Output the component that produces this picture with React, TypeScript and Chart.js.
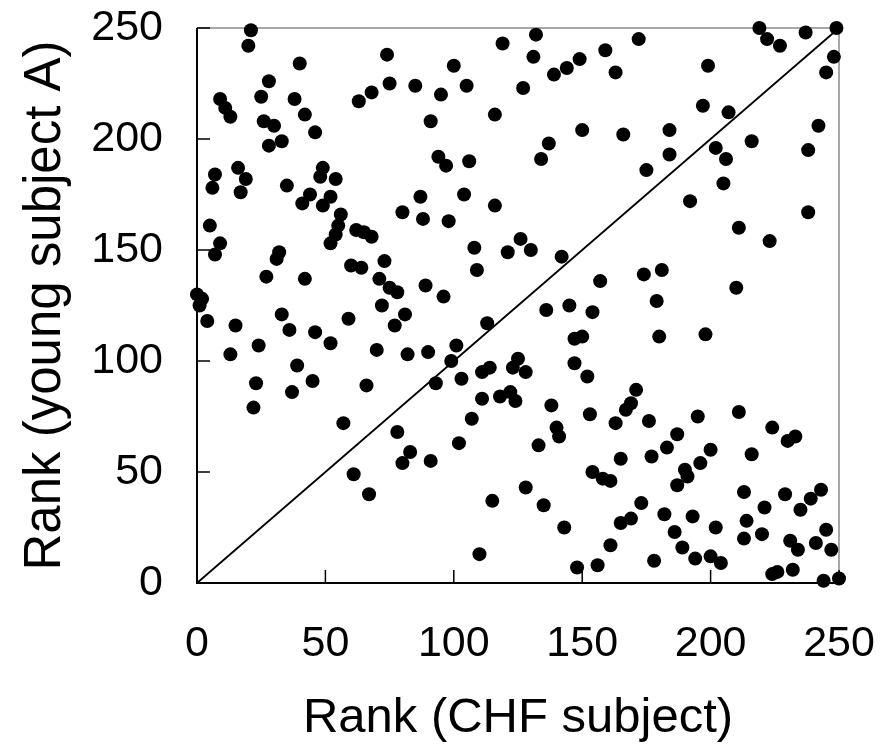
import React, { useEffect, useRef } from "react";
import { Chart, registerables } from "chart.js";

Chart.register(...registerables);

// Rank of each gene in the CHF subject (x) and in young subject A (y)
const chfRank: number[] = [
  21, 20, 40, 74, 28, 75, 68, 63, 9, 11, 13, 25, 38, 42, 26, 30, 46, 33, 28, 7, 6, 16, 19, 17, 35, 49, 48, 54, 41, 44, 49, 52,
  80, 5, 9, 7, 56, 55, 54, 52, 62, 65, 68, 32, 31, 27, 42, 60, 64, 73, 71, 75, 78, 0, 2, 1, 4, 15, 33, 36, 46, 52, 59, 72, 81, 77, 70, 82, 24, 13, 39, 23, 45, 66, 37,
  22, 57, 78, 83, 80, 61, 67,
  119, 132, 131, 159, 100, 85, 95, 105, 127, 139, 144, 149, 163, 91, 116, 150, 166, 137, 134, 94, 97, 106, 87, 104, 116,
  172, 219, 222, 227, 237, 249, 248, 245, 199, 197, 207, 242, 184, 184, 216, 202, 206, 238, 175, 205, 192, 238,
  88, 98, 108, 109, 126, 130, 121, 142, 157, 89, 96, 136, 145, 154, 113, 147, 150, 101, 99, 90, 93, 103, 111, 114, 125, 123, 128, 147, 152,
  211, 223, 174, 181, 210, 179, 180, 198, 171,
  111, 118, 122, 124, 107, 138, 140, 141, 133, 153, 163, 165, 91, 102, 154, 158, 161, 128, 115, 135, 143, 161, 110, 148, 156,
  169, 167, 176, 195, 211, 224, 230, 233, 187, 183, 177, 200, 196, 190, 191, 187, 216, 213, 221, 229, 243, 239, 235, 173, 169, 165, 182, 193, 186, 202, 189, 194, 178, 200, 204, 214, 213, 220, 231, 234, 241, 245, 247, 224, 226, 232, 244, 250,
];

const youngRank: number[] = [
  249, 242, 234, 238, 226, 225, 221, 217, 218, 214, 210, 219, 218, 211, 208, 206, 203, 199, 197, 184, 178, 187, 182, 176, 179, 187, 183, 182, 171, 175, 170, 174,
  167, 161, 153, 148, 166, 161, 157, 153, 159, 158, 156, 149, 146, 138, 137, 143, 142, 145, 137, 133, 131, 130, 128, 125, 118, 116, 121, 114, 113, 108, 119, 125, 121, 116, 105, 103, 107, 103, 98, 90, 91, 89, 86,
  79, 72, 68, 59, 54, 49, 40,
  243, 247, 237, 240, 233, 224, 220, 224, 223, 229, 232, 236, 230, 208, 211, 204, 202, 198, 191, 192, 188, 190, 174, 175, 170,
  245, 250, 245, 242, 248, 250, 237, 230, 233, 215, 212, 206, 204, 193, 199, 196, 191, 195, 186, 180, 172, 167,
  164, 163, 151, 141, 155, 150, 149, 147, 136, 134, 129, 123, 125, 122, 117, 110, 111, 107, 100, 104, 90, 92, 95, 97, 101, 97, 95, 99, 93,
  160, 154, 139, 141, 133, 127, 111, 112, 87,
  83, 84, 86, 82, 74, 80, 70, 66, 62, 76, 72, 56, 55, 63, 50, 47, 46, 43, 37, 35, 25, 17, 13, 7, 8,
  81, 78, 73, 75, 77, 70, 64, 66, 67, 61, 57, 60, 54, 51, 48, 44, 58, 41, 34, 40, 42, 38, 33, 36, 29, 27, 31, 30, 23, 25, 16, 11, 10, 12, 9, 28, 20, 22, 19, 15, 18, 24, 15, 4, 5, 6, 1, 2,
];

const identityLine: number[] = [0, 250];
const tickValues: number[] = [0, 50, 100, 150, 200, 250];
const xTitle = "Rank (CHF subject)";
const yTitle = "Rank (young subject A)";

const FONT = "'Liberation Sans', Arial, sans-serif";

const framePlugin = {
  id: "frameTicks",
  beforeDatasetsDraw(chart: any) {
    const { ctx, chartArea: a, scales } = chart;
    ctx.save();
    ctx.strokeStyle = "#8a8a8a";
    ctx.lineWidth = 1.5;
    ctx.beginPath();
    ctx.moveTo(a.left, a.top);
    ctx.lineTo(a.right, a.top);
    ctx.lineTo(a.right, a.bottom);
    ctx.stroke();
    ctx.strokeStyle = "#000";
    ctx.lineWidth = 2;
    ctx.beginPath();
    ctx.moveTo(a.left, a.top);
    ctx.lineTo(a.left, a.bottom);
    ctx.lineTo(a.right, a.bottom);
    ctx.stroke();
    ctx.lineWidth = 1.5;
    ctx.beginPath();
    tickValues.forEach((v) => {
      if (v === 0) return;
      const y = scales.y.getPixelForValue(v);
      ctx.moveTo(a.left, y);
      ctx.lineTo(a.left + 13, y);
      const x = scales.x.getPixelForValue(v);
      ctx.moveTo(x, a.bottom);
      ctx.lineTo(x, a.bottom - 13);
    });
    ctx.stroke();
    ctx.restore();
  },
};

const zeroPad = (s: any) => {
  s.paddingTop = 0;
  s.paddingBottom = 0;
  s.paddingLeft = 0;
  s.paddingRight = 0;
};

export default function App() {
  const ref = useRef<HTMLCanvasElement | null>(null);

  useEffect(() => {
    if (!ref.current) return;
    const points = chfRank.map((x, i) => ({ x, y: youngRank[i] }));
    const diag = identityLine.map((v) => ({ x: v, y: v }));
    const chart = new Chart(ref.current, {
      type: "scatter",
      data: {
        datasets: [
          {
            type: "line",
            data: diag,
            borderColor: "#000",
            borderWidth: 1.8,
            pointRadius: 0,
            fill: false,
            clip: false,
          } as any,
          {
            data: points,
            backgroundColor: "#000",
            borderWidth: 0,
            pointRadius: 7,
            clip: false,
          } as any,
        ],
      },
      options: {
        responsive: false,
        animation: false,
        devicePixelRatio: 1,
        events: [],
        layout: { padding: { left: 0, right: 42, top: 28, bottom: 0 } },
        plugins: { legend: { display: false }, tooltip: { enabled: false } },
        scales: {
          x: {
            type: "linear",
            min: 0,
            max: 250,
            afterBuildTicks: (s: any) => {
              s.ticks = tickValues.map((v) => ({ value: v }));
            },
            afterFit: (s: any) => {
              s.height = 165;
              zeroPad(s);
            },
            grid: { display: false, drawTicks: false },
            border: { display: false },
            ticks: {
              color: "#000",
              padding: 35,
              maxRotation: 0,
              autoSkip: false,
              font: { family: FONT, size: 43 },
            },
            title: {
              display: true,
              text: xTitle,
              color: "#000",
              font: { family: FONT, size: 49 },
              padding: { top: 0, bottom: 0 },
            },
          },
          y: {
            type: "linear",
            min: 0,
            max: 250,
            afterBuildTicks: (s: any) => {
              s.ticks = tickValues.map((v) => ({ value: v }));
            },
            afterFit: (s: any) => {
              s.width = 197;
              zeroPad(s);
            },
            grid: { display: false, drawTicks: false },
            border: { display: false },
            ticks: {
              color: "#000",
              padding: 34,
              autoSkip: false,
              font: { family: FONT, size: 43 },
            },
            title: {
              display: true,
              text: yTitle,
              color: "#000",
              font: { family: FONT, size: 51 },
              padding: { top: 15, bottom: 0 },
            },
          },
        },
      },
      plugins: [framePlugin],
    });
    return () => chart.destroy();
  }, []);

  return (
    <div style={{ position: "absolute", left: 0, top: 0, width: 881, height: 748, background: "#fff" }}>
      <canvas ref={ref} width={881} height={748} style={{ width: 881, height: 748, display: "block" }} />
    </div>
  );
}
